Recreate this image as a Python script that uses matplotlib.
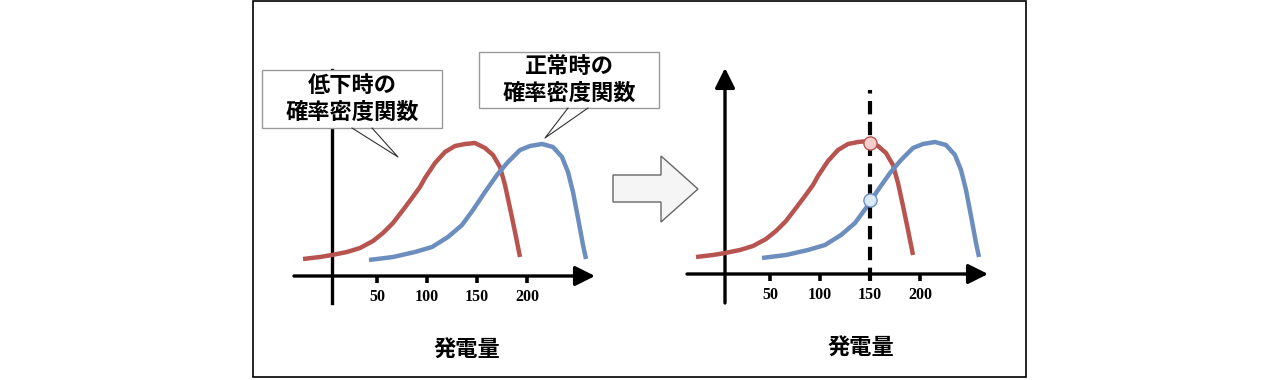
import matplotlib
matplotlib.use('Agg')
import matplotlib.pyplot as plt
from matplotlib.patches import Rectangle, Polygon

plt.rcParams['font.family'] = ['Noto Sans CJK JP', 'DejaVu Sans']

# Curve values (x = generation, h = density height)
red_x = [-24, -7, 5, 20, 33, 46, 56, 66, 76, 85, 93, 98, 108, 118, 128, 138,
         148, 158, 166, 173, 178, 183, 188, 193]
red_h = [17, 19, 21, 24, 28, 35, 43, 53, 66, 78, 89, 98, 113, 124, 130, 132,
         133, 128, 121, 109, 91, 68, 44, 19]
blue_x = [42, 66, 88, 105, 121, 135, 146, 158, 170, 181, 193, 203, 215, 226,
          235, 241, 246, 251, 256, 259]
blue_h = [16, 19, 24, 29, 39, 51, 66, 84, 101, 114, 126, 130, 132, 129,
          119, 104, 84, 58, 31, 17]
ticks = [50, 100, 150, 200]
tick_labels = ['50', '100', '150', '200']
marker_x = 150
marker_red_h = 131
marker_blue_h = 74

RED = '#b85450'
BLUE = '#6c8ebf'
W, H = 1280, 380

fig = plt.figure(figsize=(12.8, 3.8), dpi=100)


def panel(ox, oy, show_y_arrow):
    # one data unit = one pixel, origin at pixel (ox, oy)
    ax = fig.add_axes([(ox - 40) / W, (H - (oy + 40)) / H, 320 / W, 280 / H])
    ax.set_xlim(-40, 280)
    ax.set_ylim(-40, 240)
    ax.axis('off')
    ax.patch.set_alpha(0)
    # axes lines
    ax.annotate('', xy=(268, 0), xytext=(-33, 0),
                arrowprops=dict(arrowstyle='-|>,head_length=0.4,head_width=0.2',
                                lw=2.4, color='black', mutation_scale=30,
                                shrinkA=0, shrinkB=0))
    if show_y_arrow:
        ax.annotate('', xy=(5, 206), xytext=(5, -29),
                    arrowprops=dict(arrowstyle='-|>,head_length=0.4,head_width=0.2',
                                    lw=2.4, color='black', mutation_scale=30,
                                    shrinkA=0, shrinkB=0))
    else:
        ax.plot([5, 5], [-27, 206], color='black', lw=2.4)
    ax.vlines(ticks, -7, 0, color='black', lw=2.6)
    for t, lab in zip(ticks, tick_labels):
        ax.text(t, -21, lab, ha='center', va='center', fontsize=11.5,
                fontweight='bold', family='Liberation Serif')
    ax.plot(red_x, red_h, color=RED, lw=3.2, solid_capstyle='butt',
            solid_joinstyle='round', zorder=3)
    ax.plot(blue_x, blue_h, color=BLUE, lw=3.2, solid_capstyle='butt',
            solid_joinstyle='round', zorder=3)
    return ax


ax_left = panel(327, 276, False)
ax_right = panel(720, 274, True)

# dashed line and markers on the right panel
ax_right.plot([marker_x, marker_x], [-7, 184], color='black', lw=3,
              linestyle=(0, (3.2, 1.8)), zorder=4)
ax_right.plot(marker_x, marker_red_h, 'o', ms=9.5, mfc='#f8cecc', mec=RED,
              mew=1, zorder=5)
ax_right.plot(marker_x, marker_blue_h, 'o', ms=9.5, mfc='#dae8fc', mec=BLUE,
              mew=1, zorder=5)

# overlay in pixel coordinates for frame, callouts, arrow and labels
ov = fig.add_axes([0, 0, 1, 1], zorder=10)
ov.set_xlim(0, W)
ov.set_ylim(H, 0)
ov.axis('off')
ov.patch.set_alpha(0)

ov.add_patch(Rectangle((253, 1), 773, 376, fill=False, ec='black', lw=1.2))

# callout boxes
ov.add_patch(Rectangle((262, 70), 180, 58, fc='white', ec='#9a9a9a', lw=1))
ov.plot([352, 398, 372], [128, 157, 128], color='#333333', lw=0.8)
ov.text(352, 85, '低下時の', ha='center', va='center', fontsize=16, fontweight='bold')
ov.text(352, 112, '確率密度関数', ha='center', va='center', fontsize=16, fontweight='bold')

ov.add_patch(Rectangle((479, 52), 180, 56, fc='white', ec='#9a9a9a', lw=1))
ov.plot([568, 545, 588], [108, 138, 108], color='#333333', lw=0.8)
ov.text(569, 66, '正常時の', ha='center', va='center', fontsize=16, fontweight='bold')
ov.text(569, 93, '確率密度関数', ha='center', va='center', fontsize=16, fontweight='bold')

# big arrow between panels
ov.add_patch(Polygon([(613, 175), (661, 175), (661, 156), (698, 189),
                      (661, 222), (661, 202), (613, 202)],
                     closed=True, fc='#f5f5f5', ec='#666666', lw=1))

ov.text(467, 350, '発電量', ha='center', va='center', fontsize=16, fontweight='bold')
ov.text(861, 348, '発電量', ha='center', va='center', fontsize=16, fontweight='bold')

fig.savefig('out.png', dpi=100)
